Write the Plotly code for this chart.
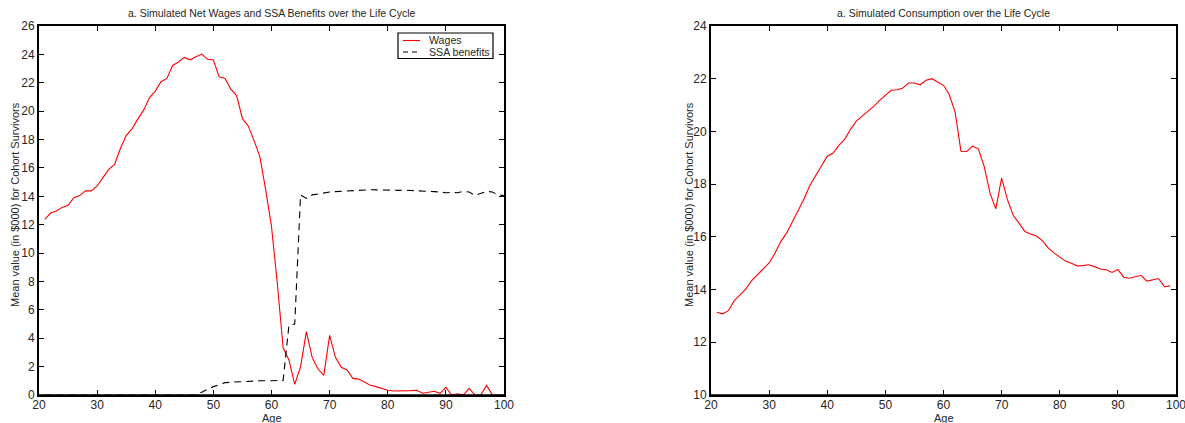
import plotly.graph_objects as go

ages_left = list(range(21, 101))
wages = [12.38, 12.82, 12.96, 13.22, 13.36, 13.9, 14.05, 14.38, 14.38, 14.73,
         15.32, 15.9, 16.24, 17.37, 18.28, 18.75, 19.44, 20.07, 20.94, 21.41,
         22.07, 22.31, 23.22, 23.46, 23.79, 23.62, 23.84, 24.02, 23.65, 23.6,
         22.42, 22.3, 21.55, 21.1, 19.47, 18.96, 17.92, 16.8, 14.45, 11.86,
         7.87, 3.33, 2.47, 0.75, 2.0, 4.46, 2.65, 1.83, 1.38, 4.2,
         2.65, 1.95, 1.76, 1.17, 1.12, 0.89, 0.68, 0.59, 0.47, 0.33,
         0.28, 0.28, 0.26, 0.31, 0.33, 0.12, 0.19, 0.26, 0.12, 0.54,
         0.0, 0.09, 0.0, 0.47, 0.0, 0.0, 0.68, 0.0, 0.0, 0.0]
ssa = [0.0] * 27 + [0.2, 0.4, 0.59, 0.72, 0.87, 0.9, 0.93, 0.95, 0.97, 0.98,
                    1.0, 1.0, 1.0, 1.02, 1.03, 4.9, 5.0, 14.1, 13.85, 14.1,
                    14.17, 14.25, 14.3, 14.33, 14.36, 14.38, 14.4, 14.42, 14.44, 14.46,
                    14.45, 14.43, 14.42, 14.41, 14.42, 14.43, 14.42, 14.4, 14.38, 14.35,
                    14.33, 14.3, 14.25, 14.27, 14.25, 14.35, 14.3, 14.07, 14.22, 14.35,
                    14.3, 14.1, 14.05]

ages_right = list(range(21, 100))
consumption = [13.14, 13.08, 13.2, 13.58, 13.8, 14.03, 14.34, 14.57, 14.78, 15.01,
               15.38, 15.82, 16.14, 16.56, 17.03, 17.44, 17.95, 18.33, 18.67, 19.06,
               19.18, 19.47, 19.7, 20.08, 20.39, 20.57, 20.76, 20.95, 21.18, 21.37,
               21.56, 21.58, 21.65, 21.84, 21.84, 21.77, 21.94, 22.0, 21.87, 21.75,
               21.39, 20.73, 19.25, 19.24, 19.44, 19.34, 18.67, 17.66, 17.06, 18.23,
               17.41, 16.81, 16.52, 16.2, 16.11, 16.03, 15.86, 15.58, 15.39, 15.23,
               15.08, 15.0, 14.9, 14.91, 14.94, 14.87, 14.78, 14.75, 14.65, 14.76,
               14.47, 14.43, 14.49, 14.54, 14.32, 14.37, 14.42, 14.11, 14.14]

x_ticks = [20, 30, 40, 50, 60, 70, 80, 90, 100]
y_ticks_left = list(range(0, 27, 2))
y_ticks_right = list(range(10, 25, 2))

title_left = "a. Simulated Net Wages and SSA Benefits over the Life Cycle"
title_right = "a. Simulated Consumption over the Life Cycle"
y_label = "Mean value (in $000) for Cohort Survivors"
x_label = "Age"
legend_names = ["Wages", "SSA benefits"]

FONT = "Liberation Sans, Arial, Helvetica, sans-serif"
TXT = "#262626"
W, H = 1185, 423
RED = "#ff0000"
DASH = "7px,5px"

fig = go.Figure()
fig.add_trace(go.Scatter(x=ages_left, y=wages, mode="lines", name=legend_names[0],
                         line=dict(color=RED, width=1.1), xaxis="x", yaxis="y"))
fig.add_trace(go.Scatter(x=ages_left, y=ssa, mode="lines", name=legend_names[1],
                         line=dict(color="black", width=1.1, dash=DASH), xaxis="x", yaxis="y"))
fig.add_trace(go.Scatter(x=ages_right, y=consumption, mode="lines", name="Consumption",
                         line=dict(color=RED, width=1.1), xaxis="x2", yaxis="y2"))

ydom = [1 - 395 / H, 1 - 26 / H]
axis_common = dict(showgrid=False, zeroline=False, showline=True, linecolor="black",
                   linewidth=2, mirror="allticks", ticks="inside", ticklen=5,
                   tickwidth=1, tickcolor="black", automargin=False, layer="above traces",
                   ticklabeloverflow="allow",
                   tickfont=dict(family=FONT, size=12, color=TXT))

fig.update_layout(
    width=W, height=H,
    margin=dict(l=0, r=0, t=0, b=0),
    paper_bgcolor="white", plot_bgcolor="white",
    font=dict(family=FONT, size=11, color=TXT),
    showlegend=False,
    xaxis=dict(domain=[39 / W, 504 / W], range=[20, 100], tickvals=x_ticks, anchor="y",
               ticklabelstandoff=-2, **axis_common),
    yaxis=dict(domain=ydom, range=[0, 26], tickvals=y_ticks_left, anchor="x", **axis_common),
    xaxis2=dict(domain=[711 / W, 1176 / W], range=[20, 100], tickvals=x_ticks, anchor="y2",
                ticklabelstandoff=-2, **axis_common),
    yaxis2=dict(domain=ydom, range=[10, 24], tickvals=y_ticks_right, anchor="x2", **axis_common),
)

def px(xp):
    return xp / W

def py(yp):
    return 1 - yp / H

annotations = [
    dict(text=title_left, x=px((39 + 504) / 2), y=py(13), xref="paper", yref="paper",
         showarrow=False, font=dict(family=FONT, size=10.5, color=TXT),
         xanchor="center", yanchor="middle"),
    dict(text=title_right, x=px((711 + 1176) / 2), y=py(13), xref="paper", yref="paper",
         showarrow=False, font=dict(family=FONT, size=10.5, color=TXT),
         xanchor="center", yanchor="middle"),
    dict(text=x_label, x=px((39 + 504) / 2), y=py(417.5), xref="paper", yref="paper",
         showarrow=False, font=dict(family=FONT, size=11, color=TXT),
         xanchor="center", yanchor="middle"),
    dict(text=x_label, x=px((711 + 1176) / 2), y=py(417.5), xref="paper", yref="paper",
         showarrow=False, font=dict(family=FONT, size=11, color=TXT),
         xanchor="center", yanchor="middle"),
    dict(text=y_label, x=px(15), y=py(205), xref="paper", yref="paper", textangle=-90,
         showarrow=False, font=dict(family=FONT, size=11, color=TXT),
         xanchor="center", yanchor="middle"),
    dict(text=y_label, x=px(689), y=py(205), xref="paper", yref="paper", textangle=-90,
         showarrow=False, font=dict(family=FONT, size=11, color=TXT),
         xanchor="center", yanchor="middle"),
]

shapes = []
# MATLAB-style bottom axis line drawn over the data (values at 0 sit on the axis)
for xr, yr in (("x domain", "y domain"), ("x2 domain", "y2 domain")):
    shapes.append(dict(type="line", xref=xr, yref=yr, x0=0, x1=1, y0=0, y1=0,
                       line=dict(color="black", width=1.6), layer="above"))

# Legend (MATLAB-style box) in the left panel
leg_x0, leg_x1, leg_y0, leg_y1 = 398, 493, 33, 58.5
rows = [40.5, 52]
shapes.append(dict(type="rect", xref="paper", yref="paper", x0=px(leg_x0), x1=px(leg_x1),
                   y0=py(leg_y1), y1=py(leg_y0), line=dict(color="black", width=1.2),
                   fillcolor="white", layer="above"))
sample_styles = [dict(color=RED, width=1.1), dict(color="black", width=1.1, dash="5px,4px")]
for name, ry, st in zip(legend_names, rows, sample_styles):
    shapes.append(dict(type="line", xref="paper", yref="paper", x0=px(403), x1=px(420),
                       y0=py(ry), y1=py(ry), line=st, layer="above"))
    annotations.append(dict(text=name, x=px(426.5), y=py(ry), xref="paper", yref="paper",
                            xanchor="left", yanchor="middle", showarrow=False,
                            font=dict(family=FONT, size=10.6, color=TXT)))

fig.update_layout(annotations=annotations, shapes=shapes)

fig.write_html("out.html", config={"displayModeBar": False},
               post_script="document.body.style.margin='0px';")
